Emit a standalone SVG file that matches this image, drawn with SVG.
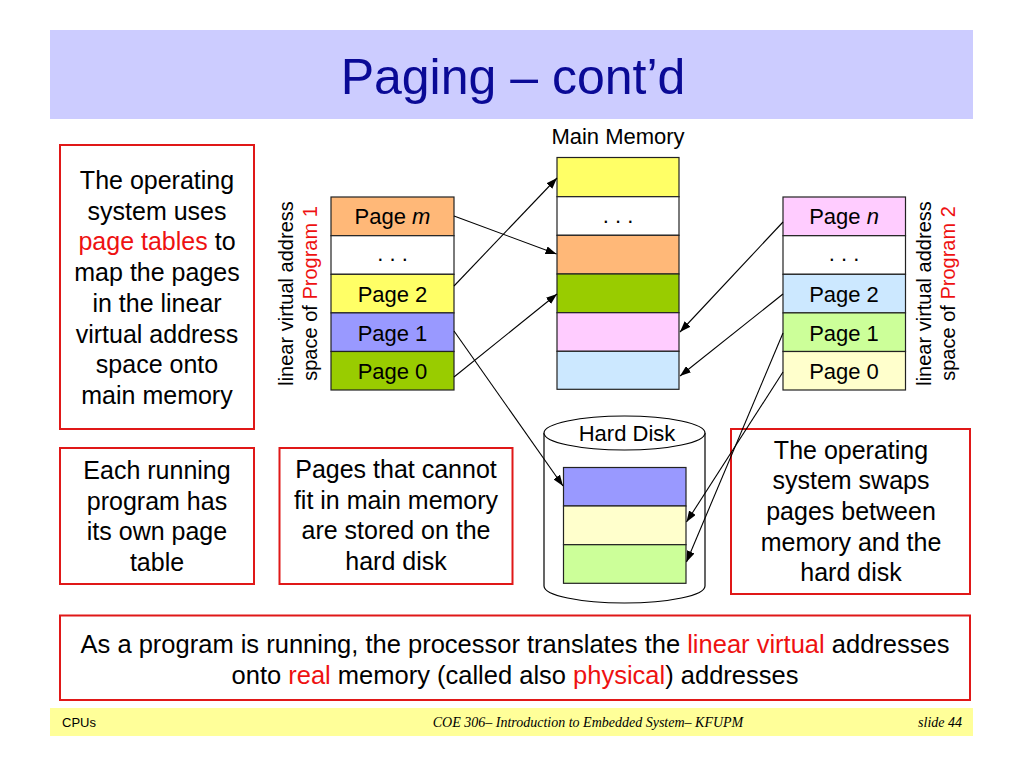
<svg xmlns="http://www.w3.org/2000/svg" width="1024" height="768" viewBox="0 0 1024 768">
<defs>
<marker id="ah" viewBox="0 0 11 8" refX="11" refY="4" markerWidth="11" markerHeight="8" markerUnits="userSpaceOnUse" orient="auto">
<path d="M0,0 L11,4 L0,8 z" fill="#000"/>
</marker>
<style>
.t{font-family:"Liberation Sans",Arial,sans-serif;fill:#000}
.b{font-size:25px;text-anchor:middle}
.bb{font-size:25.5px;text-anchor:middle}
.pg{font-size:22px;text-anchor:middle}
.vl{font-size:20px;text-anchor:middle}
.red{fill:#EE1111}
.box{fill:#fff;stroke:#E01818;stroke-width:2}
.cell{stroke:#222;stroke-width:1.2}
.conn line{stroke:#000;stroke-width:1.1;marker-end:url(#ah)}
.ft{font-family:"Liberation Serif","Times New Roman",serif;font-style:italic;font-size:14px;fill:#000}
</style>
</defs>
<rect width="1024" height="768" fill="#fff"/>

<g id="title">
<rect x="50" y="30" width="923" height="89" fill="#CCCCFF"/>
<text x="513" y="94" font-family="'Liberation Sans',sans-serif" font-size="50" fill="#0A0A96" text-anchor="middle">Paging – cont’d</text>
</g>

<g id="note-left">
<rect class="box" x="60" y="145" width="194" height="284"/>
<text class="t b"><tspan x="157" y="189">The operating</tspan><tspan x="157" y="219.7">system uses</tspan><tspan x="157" y="250.4"><tspan class="red">page tables</tspan> to</tspan><tspan x="157" y="281.1">map the pages</tspan><tspan x="157" y="311.8">in the linear</tspan><tspan x="157" y="342.5">virtual address</tspan><tspan x="157" y="373.2">space onto</tspan><tspan x="157" y="403.9">main memory</tspan></text>
</g>

<g id="program1">
<rect class="cell" x="331" y="197" width="123" height="38.7" fill="#FFB878"/>
<rect class="cell" x="331" y="235.7" width="123" height="38.6" fill="#FFFFFF"/>
<rect class="cell" x="331" y="274.3" width="123" height="38.6" fill="#FFFF66"/>
<rect class="cell" x="331" y="312.9" width="123" height="38.6" fill="#9999FF"/>
<rect class="cell" x="331" y="351.5" width="123" height="38.5" fill="#99CC00"/>
<text class="t pg" x="392.5" y="224">Page <tspan font-style="italic">m</tspan></text>
<text class="t pg" x="392.5" y="261">. . .</text>
<text class="t pg" x="392.5" y="302">Page 2</text>
<text class="t pg" x="392.5" y="340.5">Page 1</text>
<text class="t pg" x="392.5" y="379">Page 0</text>
<text class="t vl" transform="translate(293,293.5) rotate(-90)">linear virtual address</text>
<text class="t vl" transform="translate(317,293.5) rotate(-90)">space of <tspan class="red">Program 1</tspan></text>
</g>

<g id="main-memory">
<text class="t" x="618" y="144" font-size="22" text-anchor="middle">Main Memory</text>
<rect class="cell" x="557" y="157.5" width="122" height="39.2" fill="#FFFF66"/>
<rect class="cell" x="557" y="196.7" width="122" height="38.6" fill="#FFFFFF"/>
<rect class="cell" x="557" y="235.3" width="122" height="38.7" fill="#FFB878"/>
<rect class="cell" x="557" y="274" width="122" height="38.7" fill="#99CC00"/>
<rect class="cell" x="557" y="312.7" width="122" height="38.6" fill="#FFCCFF"/>
<rect class="cell" x="557" y="351.3" width="122" height="38" fill="#CCE8FF"/>
<text class="t pg" x="618" y="223">. . .</text>
</g>

<g id="program2">
<rect class="cell" x="783" y="197" width="122.5" height="38.7" fill="#FFCCFF"/>
<rect class="cell" x="783" y="235.7" width="122.5" height="38.6" fill="#FFFFFF"/>
<rect class="cell" x="783" y="274.3" width="122.5" height="38.6" fill="#CCE8FF"/>
<rect class="cell" x="783" y="312.9" width="122.5" height="38.6" fill="#CCFF99"/>
<rect class="cell" x="783" y="351.5" width="122.5" height="38.5" fill="#FFFFCC"/>
<text class="t pg" x="844" y="224">Page <tspan font-style="italic">n</tspan></text>
<text class="t pg" x="844" y="261">. . .</text>
<text class="t pg" x="844" y="302">Page 2</text>
<text class="t pg" x="844" y="340.5">Page 1</text>
<text class="t pg" x="844" y="379">Page 0</text>
<text class="t vl" transform="translate(931,293.5) rotate(-90)">linear virtual address</text>
<text class="t vl" transform="translate(955,293.5) rotate(-90)">space of <tspan class="red">Program 2</tspan></text>
</g>

<g id="hard-disk">
<path d="M544,433 L544,586 A80.5,17 0 0 0 705,586 L705,433" fill="#fff" stroke="#000" stroke-width="1.2"/>
<ellipse cx="624.5" cy="433" rx="80.5" ry="17" fill="#fff" stroke="#000" stroke-width="1.2"/>
<text class="t" x="627" y="441" font-size="22" text-anchor="middle">Hard Disk</text>
<rect class="cell" x="563.5" y="467.5" width="122.5" height="38.5" fill="#9999FF"/>
<rect class="cell" x="563.5" y="506" width="122.5" height="38.7" fill="#FFFFCC"/>
<rect class="cell" x="563.5" y="544.7" width="122.5" height="38.6" fill="#CCFF99"/>
</g>

<g id="note-each">
<rect class="box" x="60" y="448" width="194" height="136"/>
<text class="t b"><tspan x="157" y="479">Each running</tspan><tspan x="157" y="509.5">program has</tspan><tspan x="157" y="540">its own page</tspan><tspan x="157" y="570.5">table</tspan></text>
</g>

<g id="note-pages">
<rect class="box" x="279.5" y="448" width="233" height="136"/>
<text class="t b"><tspan x="396" y="478">Pages that cannot</tspan><tspan x="396" y="508.5">fit in main memory</tspan><tspan x="396" y="539">are stored on the</tspan><tspan x="396" y="569.5">hard disk</tspan></text>
</g>

<g id="note-swap">
<rect class="box" x="731" y="429" width="239" height="165"/>
<text class="t b"><tspan x="851" y="458.5">The operating</tspan><tspan x="851" y="489.2">system swaps</tspan><tspan x="851" y="519.9">pages between</tspan><tspan x="851" y="550.6">memory and the</tspan><tspan x="851" y="581.3">hard disk</tspan></text>
</g>

<g id="note-bottom">
<rect class="box" x="60" y="615.5" width="910" height="84.5"/>
<text class="t bb"><tspan x="515" y="653">As a program is running, the processor translates the <tspan class="red">linear virtual</tspan> addresses</tspan><tspan x="515" y="684">onto <tspan class="red">real</tspan> memory (called also <tspan class="red">physical</tspan>) addresses</tspan></text>
</g>

<g id="connectors" class="conn">
<line x1="454" y1="216" x2="556.5" y2="254"/>
<line x1="454" y1="286" x2="557" y2="178"/>
<line x1="454" y1="377" x2="557" y2="294"/>
<line x1="454" y1="331" x2="563" y2="486"/>
<line x1="783" y1="222" x2="680" y2="332"/>
<line x1="783" y1="294" x2="680" y2="376"/>
<line x1="783" y1="333" x2="686.5" y2="562"/>
<line x1="783" y1="372" x2="686.5" y2="522"/>
</g>

<g id="footer">
<rect x="50" y="708" width="923" height="28" fill="#FFFF99"/>
<text x="62" y="727" font-family="'Liberation Sans',sans-serif" font-size="13" fill="#000">CPUs</text>
<text class="ft" x="588" y="727" text-anchor="middle">COE 306– Introduction to Embedded System– KFUPM</text>
<text class="ft" x="962" y="727" text-anchor="end">slide 44</text>
</g>
</svg>
